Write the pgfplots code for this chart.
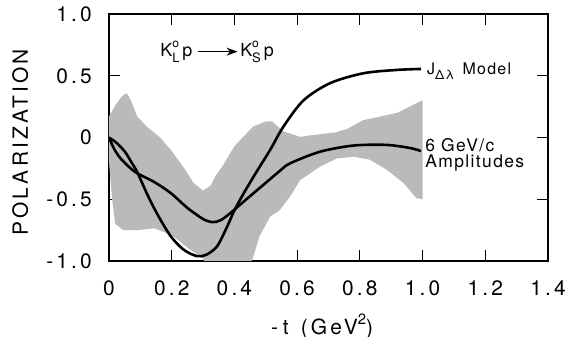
\documentclass[border=0pt]{standalone}
\usepackage{fontspec}
\setmainfont{TeX Gyre Heros}[LetterSpace=8]
\newfontfamily\tickfont{TeX Gyre Heros}[LetterSpace=15]
\usepackage{pgfplots}
\pgfplotsset{compat=1.18}
\usetikzlibrary{arrows.meta}

\pgfplotstableread{
t y
0.000 0.17
0.020 0.26
0.040 0.33
0.056 0.36
0.070 0.30
0.090 0.17
0.120 0.09
0.163 0.00
0.200 -0.11
0.240 -0.25
0.270 -0.37
0.300 -0.43
0.324 -0.39
0.340 -0.31
0.360 -0.24
0.400 -0.07
0.460 0.09
0.500 0.13
0.520 0.13
0.556 0.05
0.610 0.005
0.650 0.02
0.720 0.04
0.760 0.07
0.810 0.14
0.920 0.20
0.990 0.29
1.000 0.30
1.000 -0.50
0.980 -0.49
0.940 -0.37
0.885 -0.26
0.832 -0.18
0.780 -0.155
0.726 -0.17
0.673 -0.236
0.610 -0.344
0.577 -0.48
0.545 -0.587
0.514 -0.64
0.480 -0.80
0.450 -1.05
0.440 -1.10
0.320 -1.10
0.300 -0.98
0.260 -0.91
0.200 -0.79
0.144 -0.735
0.090 -0.75
0.046 -0.75
0.020 -0.70
0.010 -0.50
0.000 -0.20
}\band

\pgfplotstableread{
t y
0.000 0.000
0.020 -0.035
0.037 -0.075
0.055 -0.13
0.069 -0.19
0.090 -0.28
0.122 -0.46
0.154 -0.62
0.197 -0.80
0.239 -0.91
0.280 -0.96
0.310 -0.95
0.345 -0.88
0.377 -0.72
0.400 -0.59
0.430 -0.45
0.470 -0.28
0.514 -0.10
0.556 0.087
0.620 0.30
0.705 0.44
0.811 0.52
0.917 0.547
0.995 0.555
}\model

\pgfplotstableread{
t y
0.000 0.000
0.016 -0.09
0.037 -0.17
0.069 -0.25
0.090 -0.29
0.144 -0.36
0.197 -0.45
0.250 -0.57
0.300 -0.66
0.330 -0.685
0.356 -0.67
0.388 -0.61
0.420 -0.54
0.452 -0.47
0.494 -0.38
0.545 -0.27
0.577 -0.21
0.673 -0.115
0.780 -0.065
0.885 -0.06
0.960 -0.085
0.995 -0.11
}\ampl

\begin{document}
\begin{tikzpicture}
\begin{axis}[
  at={(0,0)}, anchor=south west,
  scale only axis, width=439bp, height=247bp,
  xmin=0, xmax=1.4, ymin=-1, ymax=1,
  xtick={0,0.2,0.4,0.6,0.8,1.0,1.2,1.4},
  xticklabels={0,0.2,0.4,0.6,0.8,1.0,1.2,1.4},
  ytick={-1,-0.5,0,0.5,1},
  yticklabels={-1.0,-0.5,0,0.5,1.0},
  tick align=inside,
  major tick length=11bp,
  axis line style={line width=1.2bp},
  every tick/.style={black, line width=1.2bp},
  xticklabel style={font=\tickfont\fontsize{21}{22}\selectfont, inner sep=0pt, anchor=north, yshift=-19bp},
  yticklabel style={font=\tickfont\fontsize{21}{22}\selectfont, inner sep=0pt, anchor=east, xshift=-17bp},
  ylabel={POLARIZATION},
  ylabel style={font=\tickfont\fontsize{21}{22}\selectfont, inner sep=0pt, at={(axis description cs:0,0.48)}, anchor=base, yshift=81bp},
]
\addplot[fill=black!27, draw=none] table[x=t,y=y] {\band};
\addplot[line width=2.6bp, smooth, tension=0.5] table[x=t,y=y] {\model};
\addplot[line width=2.6bp, smooth, tension=0.5] table[x=t,y=y] {\ampl};

\node[anchor=base west, inner sep=0pt, font=\fontsize{18}{20}\selectfont] at (axis cs:0.163,0.654)
  {K\makebox[0pt][l]{\raisebox{0.52em}{\fontsize{12}{12}\selectfont o}}\raisebox{-0.3em}{\fontsize{13}{13}\selectfont L}\,p};
\node[anchor=base west, inner sep=0pt, font=\fontsize{18}{20}\selectfont] at (axis cs:0.418,0.654)
  {K\makebox[0pt][l]{\raisebox{0.52em}{\fontsize{12}{12}\selectfont o}}\raisebox{-0.3em}{\fontsize{13}{13}\selectfont S}\,p};
\draw[line width=1.5bp, -{Stealth[length=11bp,width=8bp]}] (axis cs:0.284,0.695) -- (axis cs:0.410,0.695);
\node[anchor=base west, inner sep=0pt, font=\fontsize{16}{18}\selectfont] at (axis cs:1.014,0.514)
  {J\raisebox{-0.35em}{\fontsize{13}{13}\selectfont Δλ}\, Model};
\node[anchor=north west, inner sep=0pt, align=left, font=\fontsize{17.5}{16.7}\selectfont] at (axis cs:1.008,-0.005)
  {6 GeV/c\\Amplitudes};
\end{axis}
\node[anchor=base west, inner sep=0pt, font=\tickfont\fontsize{21}{22}\selectfont] at (161.8bp,-73bp)
  {-\hspace{5bp}t\hspace{12bp}(GeV\raisebox{0.45em}{\fontsize{15}{15}\selectfont 2})};
\pgfresetboundingbox
\path[use as bounding box] (-109bp,-76bp) rectangle (457bp,261bp);
\end{tikzpicture}
\end{document}
